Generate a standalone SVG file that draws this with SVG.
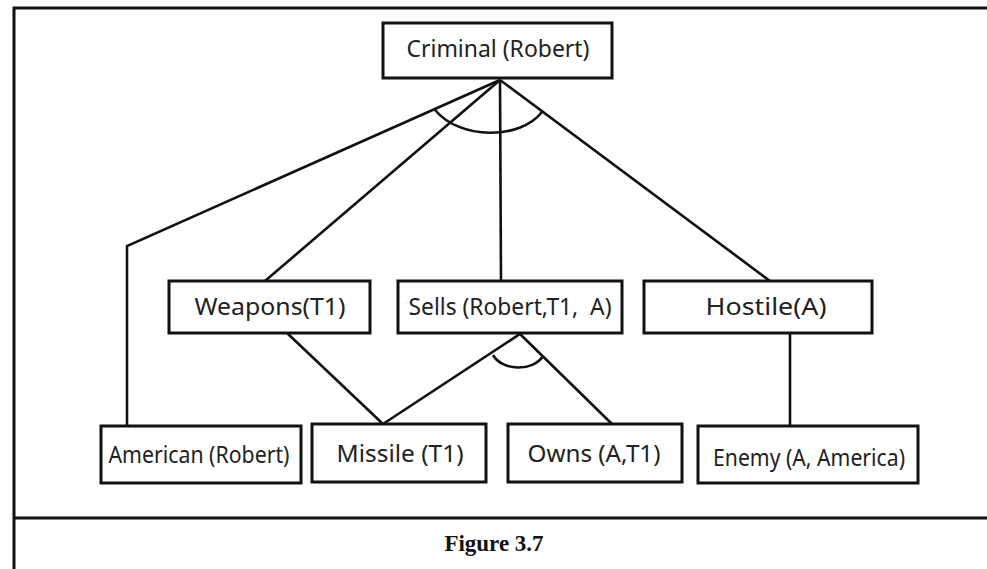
<svg xmlns="http://www.w3.org/2000/svg" width="987" height="569" viewBox="0 0 987 569">
  <style>
    .box { fill: #fff; stroke: #111; stroke-width: 3; }
    .lbl { font-family: "Noto Sans", "Open Sans", "Liberation Sans", sans-serif; font-size: 23px; fill: #222; text-anchor: middle; }
    .edge { fill: none; stroke: #111; stroke-width: 2.6; stroke-linejoin: miter; }
    .frame { fill: none; stroke: #111; stroke-width: 3; }
    .caption { font-family: "Liberation Serif", "Times New Roman", serif; font-size: 23px; font-weight: bold; fill: #111; text-anchor: middle; }
  </style>

  <rect x="0" y="0" width="987" height="569" fill="#fff"/>

  <!-- outer frame and caption divider -->
  <g id="frame">
    <path class="frame" d="M14,569 V8 H987"/>
    <path class="frame" d="M14,518 H987"/>
  </g>

  <!-- connectors -->
  <g id="connectors">
    <path class="edge" d="M500,80 L127,246 V426"/>
    <path class="edge" d="M500,80 L265,281"/>
    <path class="edge" d="M500,80 L501,281"/>
    <path class="edge" d="M500,80 L770,281"/>
    <path class="edge" d="M435,110 C460,140 520,140 542,112"/>
    <path class="edge" d="M287,333 L383,424"/>
    <path class="edge" d="M383,424 L520,334 L612,424"/>
    <path class="edge" d="M493,355 C502,371 533,372 543,356"/>
    <path class="edge" d="M790,333 V426"/>
  </g>

  <g id="criminal">
    <rect class="box" x="383" y="23" width="229" height="55"/>
    <text class="lbl" x="498" y="57" textLength="183" lengthAdjust="spacingAndGlyphs">Criminal (Robert)</text>
  </g>

  <g id="weapons">
    <rect class="box" x="169" y="281" width="201" height="52"/>
    <text class="lbl" x="270" y="315" textLength="151" lengthAdjust="spacingAndGlyphs">Weapons(T1)</text>
  </g>

  <g id="sells">
    <rect class="box" x="398" y="281" width="224" height="52"/>
    <text class="lbl" x="510" y="315" textLength="203" lengthAdjust="spacingAndGlyphs" xml:space="preserve">Sells (Robert,T1,  A)</text>
  </g>

  <g id="hostile">
    <rect class="box" x="644" y="281" width="228" height="52"/>
    <text class="lbl" x="766" y="315" textLength="121" lengthAdjust="spacingAndGlyphs">Hostile(A)</text>
  </g>

  <g id="american">
    <rect class="box" x="101" y="426" width="200" height="57"/>
    <text class="lbl" x="199" y="463" textLength="181" lengthAdjust="spacingAndGlyphs">American (Robert)</text>
  </g>

  <g id="missile">
    <rect class="box" x="312" y="424" width="174" height="58"/>
    <text class="lbl" x="400" y="462" textLength="127" lengthAdjust="spacingAndGlyphs">Missile (T1)</text>
  </g>

  <g id="owns">
    <rect class="box" x="508" y="424" width="174" height="58"/>
    <text class="lbl" x="594" y="462" textLength="133" lengthAdjust="spacingAndGlyphs">Owns (A,T1)</text>
  </g>

  <g id="enemy">
    <rect class="box" x="698" y="426" width="220" height="57"/>
    <text class="lbl" x="809" y="466" textLength="192" lengthAdjust="spacingAndGlyphs">Enemy (A, America)</text>
  </g>

  <text class="caption" x="494" y="551">Figure 3.7</text>
</svg>
